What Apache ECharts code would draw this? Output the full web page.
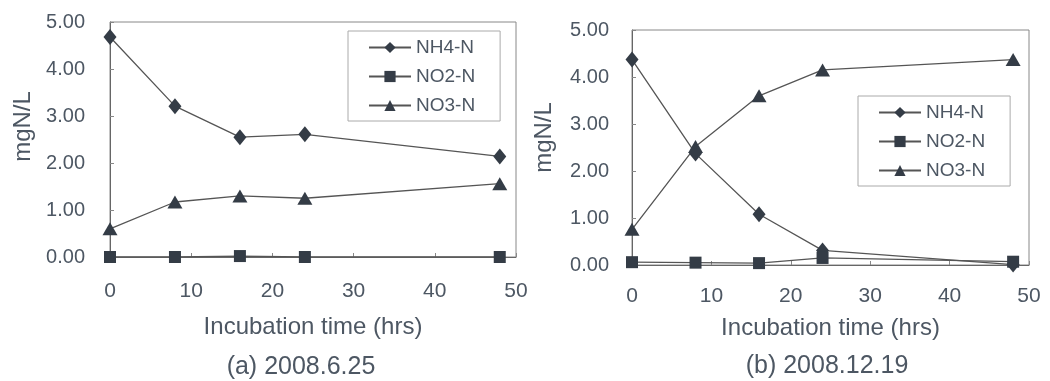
<!DOCTYPE html>
<html>
<head>
<meta charset="utf-8">
<script src="https://cdn.jsdelivr.net/npm/echarts@6/dist/echarts.min.js"></script>
<style>
html, body { margin: 0; padding: 0; background: #fff; }
#main { width: 1050px; height: 381px; }
</style>
</head>
<body>
<div id="main"></div>
<script>
// incubation time (hrs)
var hours = [0, 8, 16, 24, 48]
var seriesNames = ['NH4-N', 'NO2-N', 'NO3-N']
var yTicks = [0, 1, 2, 3, 4, 5]

// (a) 2008.6.25
var nh4A = [4.68, 3.21, 2.55, 2.61, 2.14]
var no2A = [0.00, 0.00, 0.02, 0.00, 0.00]
var no3A = [0.60, 1.17, 1.30, 1.25, 1.56]

// (b) 2008.12.19
var nh4B = [4.37, 2.37, 1.08, 0.31, 0.01]
var no2B = [0.06, 0.05, 0.04, 0.15, 0.07]
var no3B = [0.76, 2.52, 3.60, 4.15, 4.37]

var textColor = '#4d5763'
var lineColor = '#555'
var markColor = '#343c46'
var font = 'Liberation Sans'
var symbols = ['diamond', 'rect', 'triangle']
var symbolSizes = [[13, 16], [12, 12], [15, 13]]

function pairs(vals) {
    return hours.map(function (h, i) { return [h, vals[i]] })
}

function makeSeries(idx, data) {
    var out = []
    for (var i = 0; i < 3; i++) {
        out.push({
            name: seriesNames[i], type: 'line',
            xAxisIndex: idx, yAxisIndex: idx,
            symbol: symbols[i], symbolSize: symbolSizes[i],
            lineStyle: { color: lineColor, width: 1.3 },
            itemStyle: { color: markColor },
            data: pairs(data[i])
        })
    }
    return out
}

function xAx(idx, labelMargin, nameGap) {
    return {
        gridIndex: idx, type: 'value', min: 0, max: 50, interval: 10,
        name: 'Incubation time (hrs)', nameLocation: 'middle', nameGap: nameGap,
        nameTextStyle: { color: textColor, fontSize: 24, fontFamily: font },
        axisLine: { lineStyle: { color: '#666', width: 1 } },
        axisTick: { inside: true, length: 4, lineStyle: { color: '#888' } },
        axisLabel: { color: textColor, fontSize: 21, margin: labelMargin, fontFamily: font },
        splitLine: { show: false }
    }
}

function yAx(idx, labelMargin, nameGap, shift) {
    return {
        gridIndex: idx, type: 'value', min: yTicks[0], max: yTicks[yTicks.length - 1], interval: 1,
        name: 'mgN/L', nameLocation: 'middle', nameRotate: 90, nameGap: nameGap,
        nameTextStyle: { color: textColor, fontSize: 24, fontFamily: font, padding: [0, 0, 0, shift] },
        axisLine: { show: true, lineStyle: { color: '#666', width: 1 } },
        axisTick: { show: true, inside: true, length: 4, lineStyle: { color: '#888' } },
        axisLabel: {
            color: textColor, fontSize: 20, margin: labelMargin, fontFamily: font,
            formatter: function (v) { return v.toFixed(2) }
        },
        splitLine: { show: false }
    }
}

function legendAt(left, top) {
    return {
        data: seriesNames.map(function (n) { return { name: n } }),
        orient: 'vertical', left: left, top: top,
        itemWidth: 42, itemHeight: 14, itemGap: 10,
        padding: [7, 25, 6, 20],
        borderColor: '#aaa', borderWidth: 1, borderRadius: 0,
        selectedMode: false,
        textStyle: { color: textColor, fontSize: 19, fontFamily: font }
    }
}

var chart = echarts.init(document.getElementById('main'))
var option = {
    backgroundColor: '#fff',
    animation: false,
    title: [
        { text: '(a) 2008.6.25', left: 296, top: 350, textAlign: 'center',
          textStyle: { color: textColor, fontSize: 25, fontWeight: 'normal', fontFamily: font } },
        { text: '(b) 2008.12.19', left: 822, top: 349, textAlign: 'center',
          textStyle: { color: textColor, fontSize: 25, fontWeight: 'normal', fontFamily: font } }
    ],
    grid: [
        { left: 110, top: 22, width: 406, height: 235, show: true, borderColor: '#888', borderWidth: 1 },
        { left: 632, top: 30, width: 397, height: 235, show: true, borderColor: '#888', borderWidth: 1 }
    ],
    legend: [legendAt(348, 31), legendAt(858, 96)],
    xAxis: [xAx(0, 24, 58), xAx(1, 21, 51)],
    yAxis: [yAx(0, 25, 75, 26), yAx(1, 23, 76, 20)],
    series: makeSeries(0, [nh4A, no2A, no3A]).concat(makeSeries(1, [nh4B, no2B, no3B]))
}
chart.setOption(option)
</script>
</body>
</html>
